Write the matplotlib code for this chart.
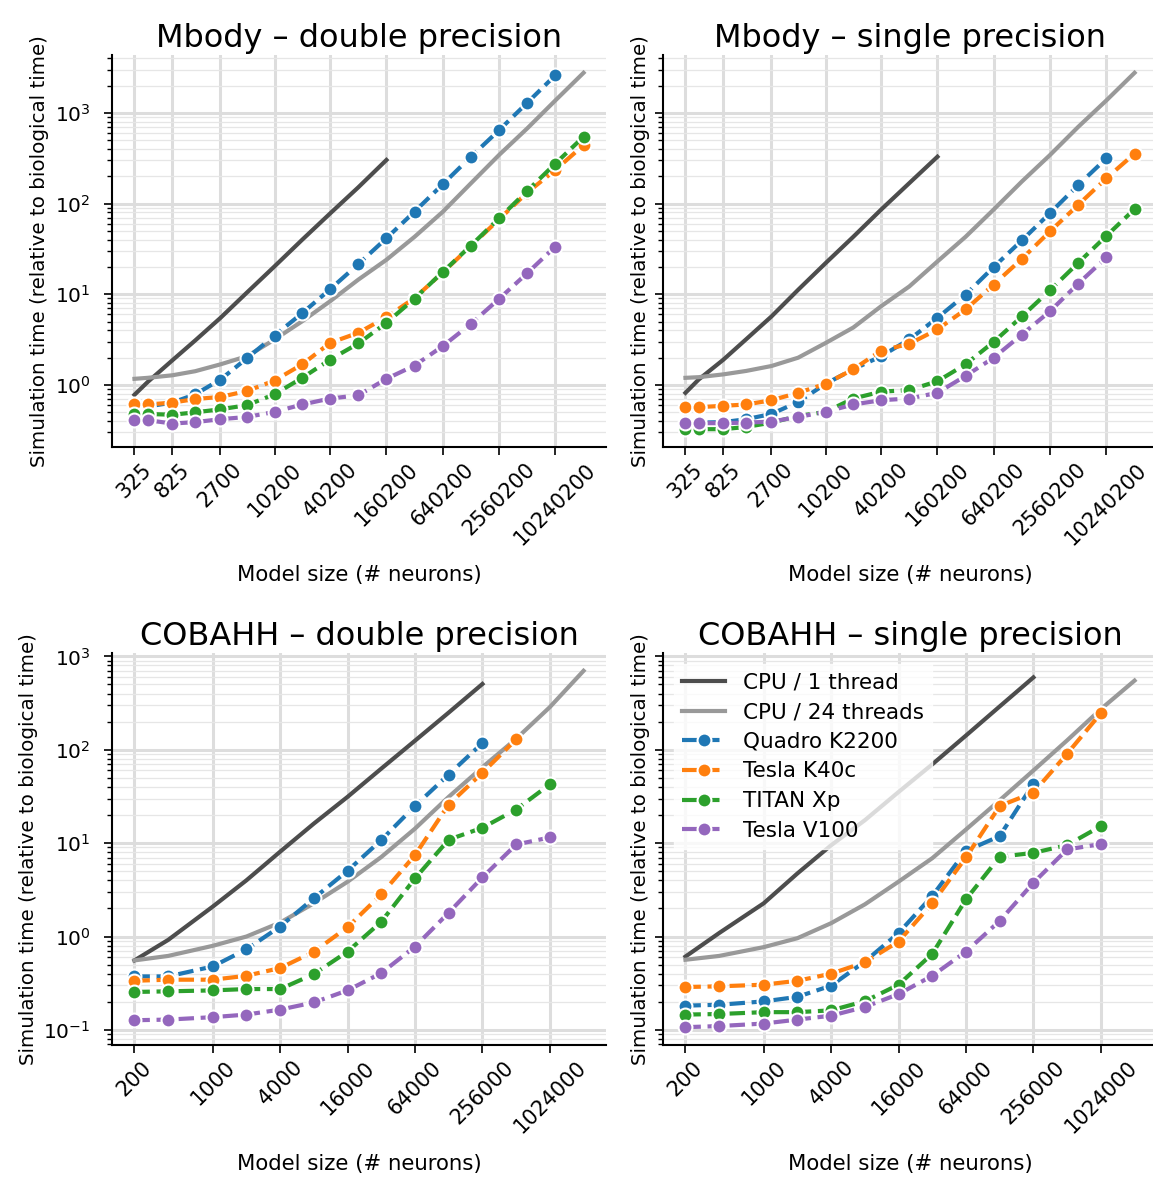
import numpy as np
import matplotlib
matplotlib.use("Agg")
import matplotlib.pyplot as plt
from matplotlib.ticker import FixedLocator, NullLocator, NullFormatter

# model sizes (# neurons) and the tick positions used on the x axes
mbody_sizes = [325, 450, 825, 1450, 2700, 5200, 10200, 20200, 40200, 80200, 160200,
               320200, 640200, 1280200, 2560200, 5120200, 10240200, 20480200]
mbody_ticks = [325, 825, 2700, 10200, 40200, 160200, 640200, 2560200, 10240200]
cobahh_sizes = [200, 400, 1000, 2000, 4000, 8000, 16000, 32000, 64000, 128000,
                256000, 512000, 1024000, 2048000]
cobahh_ticks = [200, 1000, 4000, 16000, 64000, 256000, 1024000]

devices = ["CPU / 1 thread", "CPU / 24 threads", "Quadro K2200", "Tesla K40c", "TITAN Xp", "Tesla V100"]

# simulation time relative to biological time
mbody_double = [
    [0.78, 1.08, 1.87, 3.1, 5.5, 10.5, 20.3, 40, 78, 151, 302],
    [1.17, 1.2, 1.28, 1.42, 1.69, 2.08, 3.17, 5.05, 8.4, 14.5, 24, 43, 81, 167, 343, 673, 1370, 2760],
    [0.58, 0.58, 0.64, 0.79, 1.15, 1.98, 3.51, 6.2, 11.4, 21.5, 41.5, 81.5, 163, 328, 643, 1290, 2600],
    [0.62, 0.61, 0.64, 0.70, 0.74, 0.86, 1.12, 1.69, 2.92, 3.76, 5.6, 9.1, 17.4, 34, 67, 132, 235, 440],
    [0.48, 0.48, 0.47, 0.50, 0.54, 0.60, 0.79, 1.20, 1.91, 2.87, 4.84, 8.96, 17.6, 34.4, 68.8, 138, 276, 545],
    [0.41, 0.41, 0.376, 0.39, 0.42, 0.445, 0.505, 0.61, 0.71, 0.77, 1.17, 1.64, 2.68, 4.72, 8.9, 17.1, 33.6],
]
mbody_single = [
    [0.82, 1.15, 1.9, 3.2, 5.7, 11.2, 22, 43, 86, 168, 328],
    [1.2, 1.22, 1.31, 1.43, 1.62, 2.0, 2.9, 4.3, 7.4, 12.2, 23, 43, 86, 175, 343, 700, 1370, 2760],
    [0.385, 0.385, 0.39, 0.42, 0.48, 0.65, 1.03, 1.49, 2.08, 3.18, 5.5, 9.9, 20, 39.3, 78.6, 160, 315],
    [0.57, 0.57, 0.59, 0.61, 0.68, 0.82, 1.03, 1.49, 2.4, 2.84, 4.1, 6.8, 12.8, 24.6, 49.4, 96.7, 190, 355],
    [0.326, 0.326, 0.326, 0.345, 0.385, 0.456, 0.505, 0.71, 0.845, 0.88, 1.1, 1.69, 2.99, 5.7, 11.1, 22.2, 44, 86.8],
    [0.38, 0.38, 0.38, 0.385, 0.395, 0.445, 0.505, 0.61, 0.68, 0.71, 0.82, 1.26, 2.0, 3.6, 6.5, 13.1, 25.5],
]
cobahh_double = [
    [0.555, 0.92, 2.09, 4.0, 8.1, 16.2, 31.3, 62.8, 125, 250, 506],
    [0.555, 0.62, 0.795, 1.0, 1.41, 2.27, 3.86, 7.1, 14.3, 31.3, 65, 131, 286, 700],
    [0.374, 0.374, 0.478, 0.73, 1.28, 2.57, 5.06, 10.8, 25.0, 54.3, 118],
    [0.336, 0.345, 0.345, 0.38, 0.46, 0.686, 1.26, 2.83, 7.45, 25.9, 56.7, 129],
    [0.255, 0.259, 0.265, 0.274, 0.274, 0.396, 0.69, 1.44, 4.19, 10.9, 14.6, 22.9, 42.6],
    [0.127, 0.129, 0.137, 0.146, 0.165, 0.197, 0.265, 0.406, 0.78, 1.8, 4.3, 9.67, 11.5],
]
cobahh_single = [
    [0.61, 1.09, 2.27, 4.74, 9.5, 17.6, 35.3, 69.8, 142, 291, 595],
    [0.564, 0.62, 0.77, 0.96, 1.39, 2.21, 3.87, 6.9, 14.0, 28.8, 60, 126, 272, 550],
    [0.182, 0.186, 0.202, 0.226, 0.298, 0.54, 1.09, 2.72, 8.26, 11.9, 43.3],
    [0.288, 0.293, 0.305, 0.336, 0.40, 0.53, 0.884, 2.27, 7.04, 25.0, 34.8, 90.6, 246],
    [0.146, 0.148, 0.155, 0.155, 0.162, 0.203, 0.305, 0.653, 2.5, 7.14, 7.87, 9.52, 15.2],
    [0.107, 0.11, 0.117, 0.129, 0.142, 0.176, 0.242, 0.38, 0.69, 1.47, 3.77, 8.56, 9.77],
]

colours = ["0.3", "0.6", "#1f77b4", "#ff7f0e", "#2ca02c", "#9467bd"]

plt.rcParams["font.family"] = ["DejaVu Sans"]
plt.rcParams["axes.axisbelow"] = True

fig = plt.figure(figsize=(11.53, 11.78), dpi=100)
W, H = 1153.0, 1178.0


def make_axes(x0, y_top, sharey=None):
    return fig.add_axes([x0 / W, 1 - (y_top + 392) / H, 494 / W, 392 / H], sharey=sharey)


ax_md = make_axes(112, 55)
ax_ms = make_axes(663, 55, sharey=ax_md)
ax_cd = make_axes(112, 653)
ax_cs = make_axes(663, 653, sharey=ax_cd)

panels = [
    (ax_md, "Mbody – double precision", mbody_sizes, mbody_ticks, mbody_double),
    (ax_ms, "Mbody – single precision", mbody_sizes, mbody_ticks, mbody_single),
    (ax_cd, "COBAHH – double precision", cobahh_sizes, cobahh_ticks, cobahh_double),
    (ax_cs, "COBAHH – single precision", cobahh_sizes, cobahh_ticks, cobahh_single),
]

for ax, title, sizes, ticks, series in panels:
    for i, vals in enumerate(series):
        x = sizes[:len(vals)]
        if i < 2:
            ax.plot(x, vals, color=colours[i], lw=3, label=devices[i])
        else:
            ax.plot(x, vals, color=colours[i], lw=3, ls="--", marker="o", ms=10,
                    mec="white", mew=1.5, label=devices[i])
    ax.set_xscale("log")
    ax.set_yscale("log")
    ax.xaxis.set_major_locator(FixedLocator(ticks))
    ax.xaxis.set_minor_locator(NullLocator())
    ax.xaxis.set_minor_formatter(NullFormatter())
    ax.set_xticklabels([str(t) for t in ticks], rotation=45, fontsize=15)
    ax.tick_params(axis="y", labelsize=14.5, pad=10)
    ax.tick_params(which="major", length=5.5, width=1.2, color="black")
    ax.tick_params(which="minor", length=3.5, width=1.0, color="black")
    ax.grid(True, which="major", color="#dddddd", lw=2.2)
    ax.grid(True, which="minor", axis="y", color="#e6e6e6", lw=0.9)
    for s in ["top", "right"]:
        ax.spines[s].set_visible(False)
    for s in ["left", "bottom"]:
        ax.spines[s].set_linewidth(1.5)
        ax.spines[s].set_color("black")
    ax.set_title(title, fontsize=23)
    ax.set_xlabel("Model size (# neurons)", fontsize=15.3, labelpad=12)
    ax.set_ylabel("Simulation time (relative to biological time)", fontsize=14.3)

for ax in [ax_ms, ax_cs]:
    ax.tick_params(axis="y", which="both", labelleft=False)

leg = ax_cs.legend(loc="upper left", fontsize=15.5, labelspacing=0.45, framealpha=0.8,
                   edgecolor="white", fancybox=False)

fig.savefig("out.png", dpi=100)
